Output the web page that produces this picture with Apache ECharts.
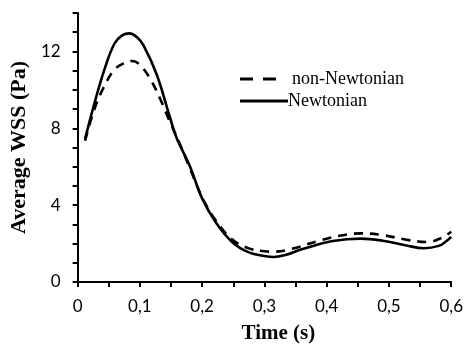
<!DOCTYPE html>
<html><head><meta charset="utf-8">
<script src="https://cdn.jsdelivr.net/npm/echarts@6/dist/echarts.min.js"></script>
<style>html,body{margin:0;padding:0;background:#fff}#c{width:466px;height:349px}</style>
</head><body><div id="c"></div>
<script>
const newtonianT = [0.012,0.027,0.043,0.059,0.072,0.083,0.095,0.106,0.127,0.148,0.159,0.18,0.2,0.222,0.249,0.275,0.3,0.315,0.335,0.36,0.41,0.455,0.49,0.528,0.556,0.58,0.592,0.6];
const newtonianV = [7.45,9.3,11.05,12.4,12.85,12.94,12.75,12.3,10.8,8.6,7.5,6.05,4.35,3.1,2.06,1.54,1.35,1.3,1.42,1.7,2.13,2.26,2.15,1.9,1.76,1.88,2.12,2.35];
const nonNewtonianT = [0.012,0.027,0.043,0.059,0.075,0.088,0.1,0.117,0.133,0.148,0.164,0.18,0.2,0.222,0.249,0.275,0.3,0.315,0.343,0.385,0.417,0.455,0.49,0.528,0.562,0.585,0.595,0.6];
const nonNewtonianV = [7.35,9.0,10.2,11.05,11.4,11.5,11.3,10.55,9.5,8.35,7.2,5.95,4.4,3.2,2.2,1.75,1.6,1.58,1.72,2.12,2.38,2.53,2.44,2.2,2.08,2.3,2.5,2.62];
const seriesNames = ['non-Newtonian','Newtonian'];
const xTitle = 'Time (s)';
const yTitle = 'Average WSS (Pa)';

const zip = (a,b)=>a.map((t,i)=>[t,b[i]]);
const chart = echarts.init(document.getElementById('c'));
const labelFont = {fontFamily:'Lato, "Open Sans", sans-serif', fontSize:17, color:'#000'};
const serif = '"Liberation Serif", "Times New Roman", serif';
chart.setOption({
  animation:false,
  grid:{left:76,top:13,right:10,bottom:66,containLabel:false},
  graphic:[
    {type:'line', shape:{x1:240,y1:79,x2:277,y2:79}, style:{stroke:'#000', lineWidth:3, lineDash:[13,10]}},
    {type:'text', left:292, top:70, style:{text:seriesNames[0], font:'18px '+serif, fill:'#000'}},
    {type:'line', shape:{x1:240,y1:101,x2:288,y2:101}, style:{stroke:'#000', lineWidth:3}},
    {type:'text', left:288, top:92, style:{text:seriesNames[1], font:'18px '+serif, fill:'#000'}}
  ],
  xAxis:{
    type:'value', min:0, max:0.6, interval:0.05,
    name:xTitle, nameLocation:'middle', nameGap:41,
    nameTextStyle:{fontFamily:serif, fontSize:21, fontWeight:'bold', color:'#000', padding:[0,0,0,28]},
    axisLine:{lineStyle:{color:'#000',width:2}},
    axisTick:{show:true, length:5, inside:false, lineStyle:{color:'#000',width:2}},
    splitLine:{show:false},
    axisLabel:Object.assign({margin:16, showMaxLabel:true, formatter:v=>{
      const r=Math.round(v*100);
      return (r%10===0) ? (r===0?'0':(r/100).toFixed(1).replace('.',',')) : '';
    }}, labelFont)
  },
  yAxis:{
    type:'value', min:0, max:14, interval:1,
    name:yTitle, nameLocation:'middle', nameGap:44, nameRotate:90,
    nameTextStyle:{fontFamily:serif, fontSize:22, fontWeight:'bold', color:'#000'},
    axisLine:{show:true,lineStyle:{color:'#000',width:2}},
    axisTick:{show:true, length:5, inside:false, lineStyle:{color:'#000',width:2}},
    splitLine:{show:false},
    axisLabel:Object.assign({margin:17, formatter:v=>(Math.round(v)%4===0?String(Math.round(v)):'')}, labelFont)
  },
  series:[
    {name:seriesNames[0], type:'line', smooth:0.4, symbol:'none', data:zip(nonNewtonianT,nonNewtonianV),
     lineStyle:{color:'#000', width:2.6, type:[9,7]}},
    {name:seriesNames[1], type:'line', smooth:0.4, symbol:'none', data:zip(newtonianT,newtonianV),
     lineStyle:{color:'#000', width:2.6, type:'solid'}}
  ]
});
</script></body></html>
